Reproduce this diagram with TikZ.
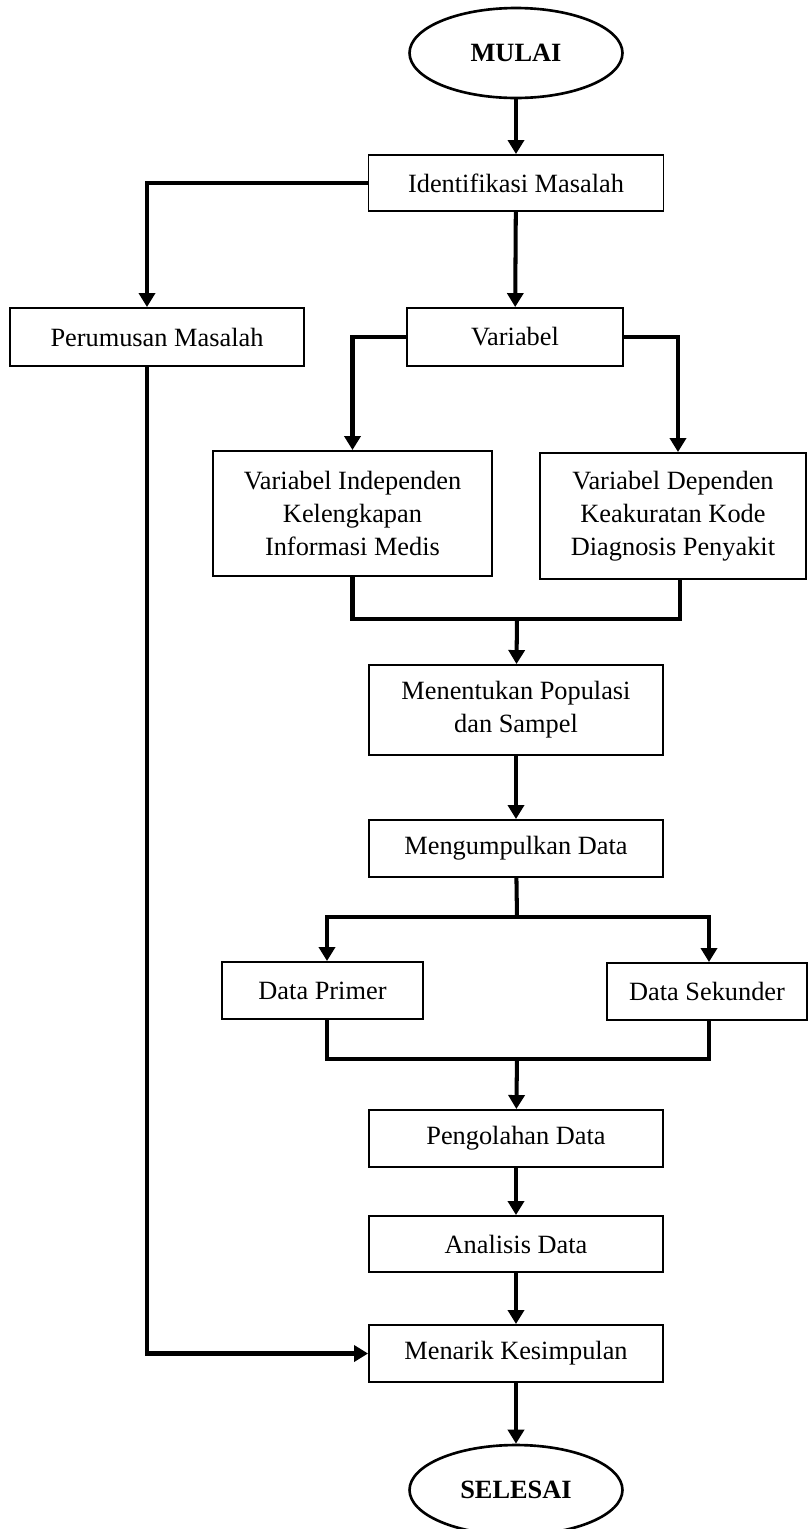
\documentclass[tikz,border=0pt]{standalone}
\usepackage{fontspec}
\setmainfont{Liberation Serif}
\usetikzlibrary{shapes.geometric, arrows.meta}

\tikzset{
    stepbox/.style = {draw, line width = 1.1pt, inner sep = 0, align = center, font = \fontsize{15}{18.8}\selectfont},
    terminal/.style = {draw, ellipse, line width = 1.5pt, inner sep = 0, minimum width = 4.26cm, minimum height = 1.8cm, font = \fontsize{15}{18.8}\selectfont\bfseries},
    line/.style = {line width = 2.3pt},
    conn/.style = {line, -{Triangle[length = .28cm, width = .32cm]}}
}

\begin{document}
\begin{tikzpicture}[x = .02cm, y = -.02cm]
        \useasboundingbox (0, 0) rectangle (809, 1529);
        % start and end
        \node [terminal] (mulai) at (516, 53) {MULAI};
        \node [terminal] (selesai) at (516, 1490) {SELESAI};
        % boxes
        \node [stepbox, minimum width = 5.9cm, minimum height = 1.12cm] (iden) at (516, 183) {Identifikasi Masalah};
        \node [stepbox, minimum width = 5.88cm, minimum height = 1.16cm] (rumus) at (157, 337) {Perumusan Masalah};
        \node [stepbox, minimum width = 4.32cm, minimum height = 1.16cm] (var) at (515, 337) {Variabel};
        \node [stepbox, minimum width = 5.58cm, minimum height = 2.5cm] (indep) at (352.5, 513.5) {Variabel Independen\\Kelengkapan\\Informasi Medis};
        \node [stepbox, minimum width = 5.32cm, minimum height = 2.52cm] (dep) at (673, 516) {Variabel Dependen\\Keakuratan Kode\\Diagnosis Penyakit};
        \node [stepbox, minimum width = 5.88cm, minimum height = 1.8cm] (pop) at (516, 710) {Menentukan Populasi\\dan Sampel};
        \node [stepbox, minimum width = 5.88cm, minimum height = 1.14cm] (kumpul) at (516, 848.5) {Mengumpulkan Data};
        \node [stepbox, minimum width = 4.02cm, minimum height = 1.14cm] (primer) at (322.5, 990.5) {Data Primer};
        \node [stepbox, minimum width = 4cm, minimum height = 1.14cm] (sekunder) at (707, 991.5) {Data Sekunder};
        \node [stepbox, minimum width = 5.88cm, minimum height = 1.14cm] (olah) at (516, 1138.5) {Pengolahan Data};
        \node [stepbox, minimum width = 5.88cm, minimum height = 1.12cm] (analisis) at (516, 1244) {Analisis Data};
        \node [stepbox, minimum width = 5.88cm, minimum height = 1.14cm] (tarik) at (516, 1353.5) {Menarik Kesimpulan};
        % junctions
        \coordinate (j1) at (517, 619);
        \coordinate (b1) at (517, 917);
        \coordinate (j2) at (517, 1059);
        % connectors
        \draw [conn] (mulai) -- (iden);
        \draw [conn] (iden) -- (var);
        \draw [conn] (iden.west) -| ([xshift = -.2cm]rumus.north);
        \draw [conn] (var.west) -| (indep.north);
        \draw [conn] (var.east) -| ([xshift = .1cm]dep.north);
        \draw [line] (indep.south) |- (j1) -| ([xshift = .14cm]dep.south);
        \draw [conn] (j1) -- (pop);
        \draw [conn] (pop) -- (kumpul);
        \draw [line] (kumpul) -- (b1);
        \draw [conn] (b1) -| ([xshift = .09cm]primer.north);
        \draw [conn] (b1) -| ([xshift = .04cm]sekunder.north);
        \draw [line] ([xshift = .09cm]primer.south) |- (j2) -| ([xshift = .04cm]sekunder.south);
        \draw [conn] (j2) -- (olah);
        \draw [conn] (olah) -- (analisis);
        \draw [conn] (analisis) -- (tarik);
        \draw [conn] ([xshift = -.2cm]rumus.south) |- (tarik.west);
        \draw [conn] (tarik) -- (selesai);
    \end{tikzpicture}
\end{document}
